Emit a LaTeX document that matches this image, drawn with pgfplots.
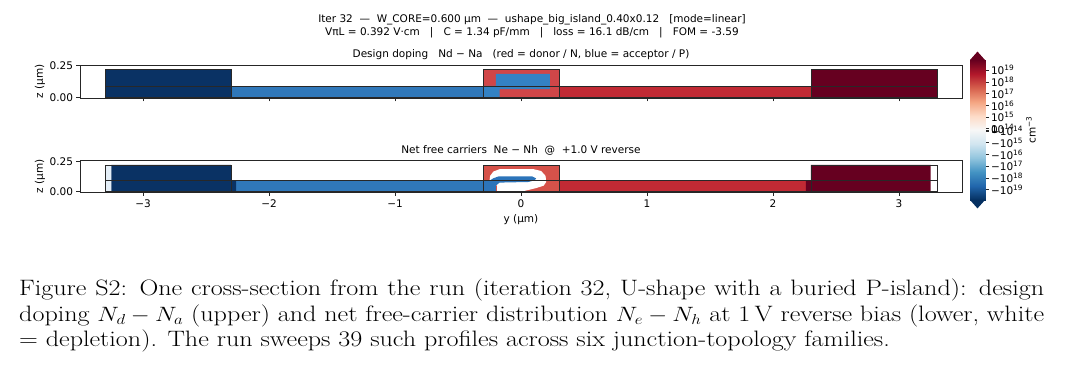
\documentclass[border=0pt]{standalone}
\usepackage{fontspec}
\usepackage{graphicx}
\usepackage{pgfplots}
\pgfplotsset{compat=1.18}
\newfontfamily\dv{DejaVu Sans}
\newcommand{\dvs}{\dv\fontsize{10.5}{12.5}\selectfont}
\definecolor{pdark}{RGB}{10,50,100}
\definecolor{pslab}{RGB}{48,120,186}
\definecolor{nslab}{RGB}{193,42,52}
\definecolor{ndark}{RGB}{102,0,32}
\definecolor{ncore}{RGB}{208,70,72}
\definecolor{pisl}{RGB}{52,130,196}
\definecolor{ncoreB}{RGB}{214,82,74}
\definecolor{pstripe}{RGB}{44,116,186}
\definecolor{lightedge}{RGB}{228,238,247}
\definecolor{outl}{RGB}{40,40,40}
\pgfplotsset{colormap={RdBuR}{rgb255=(5,48,97) rgb255=(33,102,172) rgb255=(67,147,195) rgb255=(146,197,222) rgb255=(209,229,240) rgb255=(247,247,247) rgb255=(253,219,199) rgb255=(244,165,130) rgb255=(214,96,77) rgb255=(178,24,43) rgb255=(103,0,31)}}
\pgfplotsset{panel/.style={scale only axis, anchor=south west, width=882pt,
  xmin=-3.5, xmax=3.5, ymin=-0.006, ymax=0.256,
  axis line style={black!85, line width=0.8pt},
  xtick={-3,-2,-1,0,1,2,3}, ytick={0,0.25}, yticklabels={0.00,0.25},
  tick align=outside, major tick length=3.5pt,
  tick style={black!85, line width=0.8pt},
  xtick pos=bottom, ytick pos=left,
  ticklabel style={font=\dvs},
  clip=true},
  outline/.style={draw=outl, line width=0.6pt}}
\begin{document}
\begin{tikzpicture}
\path[use as bounding box] (0pt,0pt) rectangle (1080pt,379pt);
% ---------- upper panel: design doping ----------
\begin{axis}[panel, at={(80pt,281pt)}, height=33pt, xticklabels={}]
\addplot[fill=pslab, draw=none] coordinates {(-3.3,0) (-0.3,0) (-0.3,0.09) (-3.3,0.09)} -- cycle;
\addplot[fill=nslab, draw=none] coordinates {(0.3,0) (3.3,0) (3.3,0.09) (0.3,0.09)} -- cycle;
\addplot[fill=pdark, draw=none] coordinates {(-3.3,0) (-2.3,0) (-2.3,0.22) (-3.3,0.22)} -- cycle;
\addplot[fill=ndark, draw=none] coordinates {(2.3,0) (3.3,0) (3.3,0.22) (2.3,0.22)} -- cycle;
\addplot[fill=ncore, draw=none] coordinates {(-0.3,0) (0.3,0) (0.3,0.22) (-0.3,0.22)} -- cycle;
\addplot[fill=pisl, draw=none] coordinates {(-0.3,0) (-0.17,0) (-0.17,0.065) (0.23,0.065) (0.23,0.185) (-0.2,0.185) (-0.2,0.09) (-0.3,0.09)} -- cycle;
\addplot[outline] coordinates {(-3.3,0) (3.3,0) (3.3,0.09) (-3.3,0.09)} -- cycle;
\addplot[outline] coordinates {(-3.3,0) (-2.3,0) (-2.3,0.22) (-3.3,0.22)} -- cycle;
\addplot[outline] coordinates {(2.3,0) (3.3,0) (3.3,0.22) (2.3,0.22)} -- cycle;
\addplot[outline] coordinates {(-0.3,0) (0.3,0) (0.3,0.22) (-0.3,0.22)} -- cycle;
\end{axis}
% ---------- lower panel: net free carriers ----------
\begin{axis}[panel, at={(80pt,186.5pt)}, height=32pt, xticklabels={−3,−2,−1,0,1,2,3}]
\addplot[fill=lightedge, draw=none] coordinates {(-3.3,0) (-3.25,0) (-3.25,0.22) (-3.3,0.22)} -- cycle;
\addplot[fill=pslab, draw=none] coordinates {(-2.3,0) (-0.3,0) (-0.3,0.09) (-2.3,0.09)} -- cycle;
\addplot[fill=nslab, draw=none] coordinates {(0.3,0) (2.3,0) (2.3,0.09) (0.3,0.09)} -- cycle;
\addplot[fill=pdark, draw=none] coordinates {(-3.25,0) (-2.26,0) (-2.26,0.09) (-2.3,0.09) (-2.3,0.22) (-3.25,0.22)} -- cycle;
\addplot[fill=ndark, draw=none] coordinates {(2.26,0) (3.25,0) (3.25,0.22) (2.3,0.22) (2.3,0.09) (2.26,0.09)} -- cycle;
\addplot[fill=ncoreB, draw=none] coordinates {(-0.3,0) (0.3,0) (0.3,0.22) (-0.3,0.22)} -- cycle;
\addplot[fill=white, draw=none] coordinates {(-0.25,0.09) (-0.245,0.13) (-0.22,0.165) (-0.17,0.185) (0.10,0.185) (0.16,0.17) (0.195,0.13) (0.20,0.08) (0.18,0.05) (0.12,0.03) (0.0,0.0) (-0.19,0.0) (-0.19,0.05) (-0.22,0.07)} -- cycle;
\addplot[fill=pstripe, draw=none] coordinates {(-0.30,0) (-0.20,0) (-0.20,0.05) (-0.17,0.075) (0.06,0.08) (0.11,0.095) (0.12,0.11) (0.09,0.125) (-0.18,0.125) (-0.22,0.11) (-0.25,0.09) (-0.30,0.09)} -- cycle;
\addplot[outline] coordinates {(-3.3,0) (3.3,0) (3.3,0.09) (-3.3,0.09)} -- cycle;
\addplot[outline] coordinates {(-3.3,0) (-2.3,0) (-2.3,0.22) (-3.3,0.22)} -- cycle;
\addplot[outline] coordinates {(2.3,0) (3.3,0) (3.3,0.22) (2.3,0.22)} -- cycle;
\addplot[outline] coordinates {(-0.3,0) (0.3,0) (0.3,0.22) (-0.3,0.22)} -- cycle;
\end{axis}
% ---------- colorbar ----------
\begin{axis}[at={(970pt,170.6pt)}, anchor=south west, scale only axis,
  width=15pt, height=156.8pt, xmin=0, xmax=1, ymin=-6.7, ymax=6.7,
  axis line style={draw=none}, xtick=\empty, ytick pos=right,
  colormap name=RdBuR, point meta min=-6, point meta max=6,
  tick align=outside, major tick length=3.5pt, tick style={black!85, line width=0.8pt},
  ytick={-5.1,-4.1,-3.1,-2.1,-1.1,-0.1,0,0.1,1.1,2.1,3.1,4.1,5.1},
  yticklabels={{−10\textsuperscript{19}},{−10\textsuperscript{18}},{−10\textsuperscript{17}},{−10\textsuperscript{16}},{−10\textsuperscript{15}},{−10\textsuperscript{14}},{0},{10\textsuperscript{14}},{10\textsuperscript{15}},{10\textsuperscript{16}},{10\textsuperscript{17}},{10\textsuperscript{18}},{10\textsuperscript{19}}},
  yticklabel style={font=\dvs, anchor=west, xshift=-1pt},
  clip=false]
\addplot[surf, shader=interp, point meta=y, mesh/cols=2] coordinates {
(0,-6) (1,-6) (0,-5.4) (1,-5.4) (0,-4.8) (1,-4.8) (0,-4.2) (1,-4.2) (0,-3.6) (1,-3.6)
(0,-3) (1,-3) (0,-2.4) (1,-2.4) (0,-1.8) (1,-1.8) (0,-1.2) (1,-1.2) (0,-0.6) (1,-0.6)
(0,0) (1,0) (0,0.6) (1,0.6) (0,1.2) (1,1.2) (0,1.8) (1,1.8) (0,2.4) (1,2.4)
(0,3) (1,3) (0,3.6) (1,3.6) (0,4.2) (1,4.2) (0,4.8) (1,4.8) (0,5.4) (1,5.4) (0,6) (1,6)};
\addplot[fill={rgb,255:red,103;green,0;blue,31}, draw=none] coordinates {(0,5.98) (1,5.98) (0.5,6.7)} -- cycle;
\addplot[fill={rgb,255:red,5;green,48;blue,97}, draw=none] coordinates {(0,-5.98) (1,-5.98) (0.5,-6.7)} -- cycle;
\end{axis}
\node[font=\dvs, rotate=90] at (1031pt,249pt) {cm\textsuperscript{−3}};
% ---------- titles and labels ----------
\node[font=\dvs] at (532pt,359pt) {Iter 32\ \ —\ \ W\_CORE=0.600 µm\ \ —\ \ ushape\_big\_island\_0.40x0.12\ \ \ [mode=linear]};
\node[font=\dvs] at (532pt,346pt) {VπL = 0.392 V·cm\ \ \ |\ \ \ C = 1.34 pF/mm\ \ \ |\ \ \ loss = 16.1 dB/cm\ \ \ |\ \ \ FOM = -3.59};
\node[font=\dvs] at (521pt,324pt) {Design doping\ \ \ Nd − Na\ \ \ (red = donor / N, blue = acceptor / P)};
\node[font=\dvs] at (521pt,228.5pt) {Net free carriers\ \ Ne − Nh\ \ @\ \ +1.0 V reverse};
\node[font=\dvs] at (521pt,159pt) {y (µm)};
\node[font=\dvs, rotate=90] at (40pt,297.5pt) {z (µm)};
\node[font=\dvs, rotate=90] at (40pt,202.5pt) {z (µm)};
% ---------- caption ----------
\node[anchor=base west, inner sep=0pt] at (19pt,83pt)
{\scalebox{1.17}[1]{\parbox[t]{876pt}{\fontsize{22.3}{25.5}\selectfont
Figure S2: One cross-section from the run (iteration 32, U-shape with a buried P-island): design\linebreak
doping $N_d-N_a$ (upper) and net free-carrier distribution $N_e-N_h$ at 1\,V reverse bias (lower, white\linebreak
= depletion). The run sweeps 39 such profiles across six junction-topology families.}}};
\end{tikzpicture}
\end{document}
